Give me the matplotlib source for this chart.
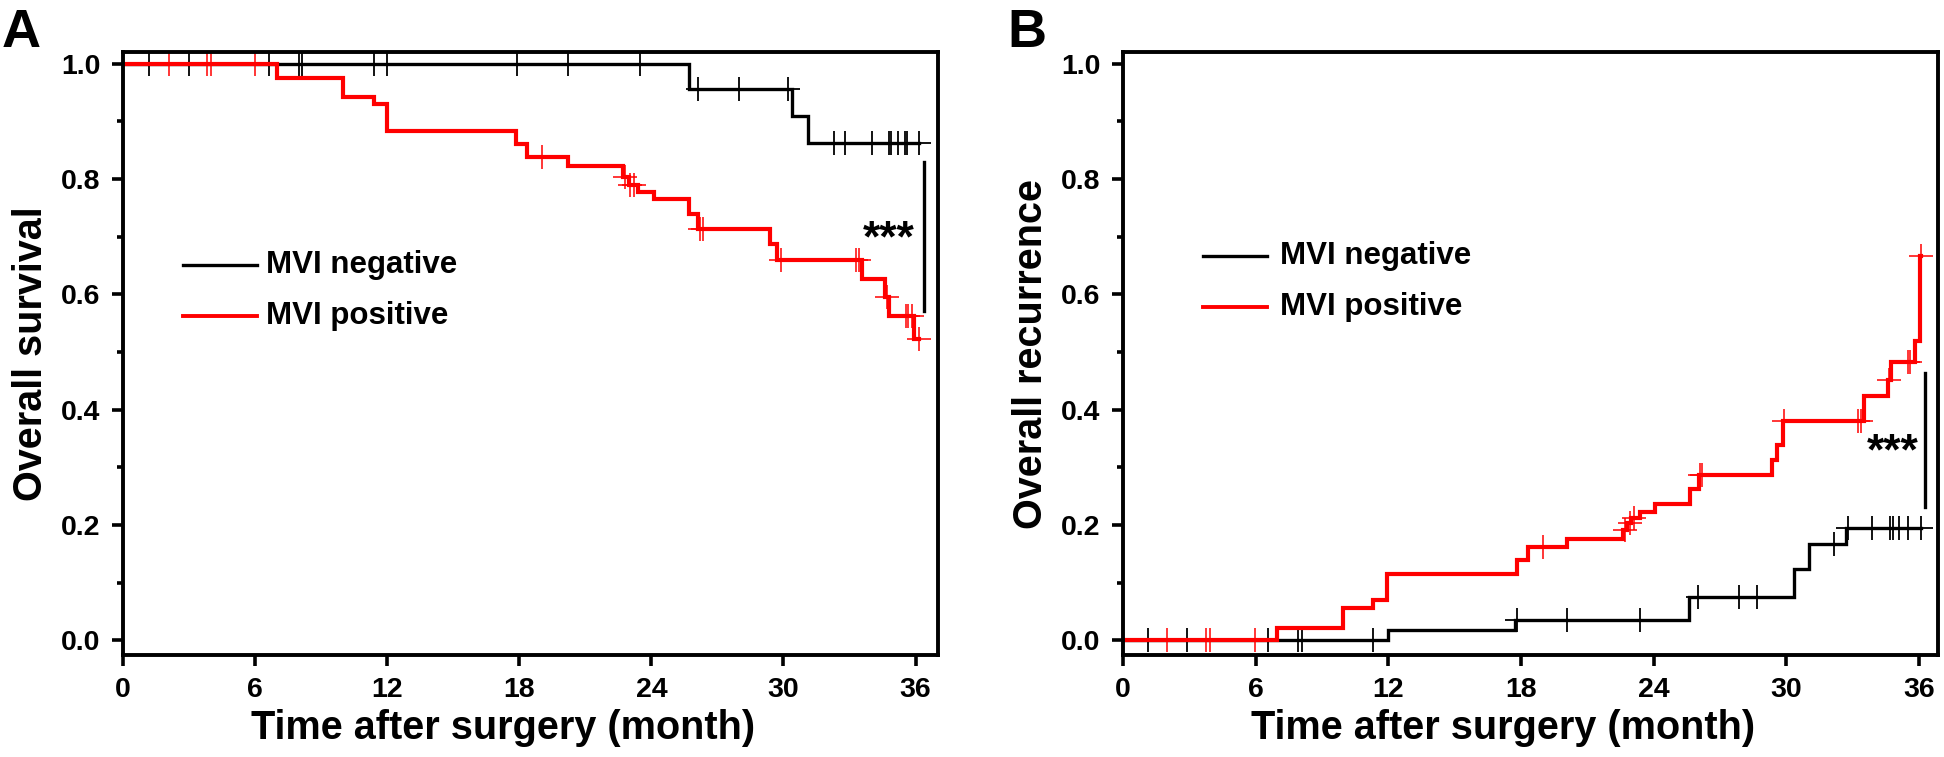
import numpy as np
import matplotlib
matplotlib.use("Agg")
import matplotlib.pyplot as plt
from matplotlib.ticker import MultipleLocator

plt.rcParams['font.family'] = ['Liberation Sans', 'DejaVu Sans']
plt.rcParams['font.weight'] = 'bold'

# ---- panel A: overall survival (step starts / levels / censor times)
a_neg_t = [0, 25.7, 30.4, 31.1]
a_neg_y = [1.0, 0.957, 0.91, 0.863]
a_neg_cens = [1.2, 3.0, 6.65, 8.0, 8.15, 11.4, 12.0, 17.9, 20.2, 23.5, 26.1, 28.0,
              30.2, 32.3, 32.8, 34.0, 34.8, 34.9, 35.2, 35.5, 35.6, 36.15]

a_pos_t = [0, 7.0, 10.0, 11.4, 12.0, 17.85, 18.35, 20.2, 22.7, 23.0, 23.4, 24.1,
           25.7, 26.1, 29.4, 29.7, 33.55, 34.6, 34.8, 35.95]
a_pos_y = [1.0, 0.976, 0.942, 0.931, 0.884, 0.861, 0.838, 0.823, 0.803, 0.79, 0.777,
           0.765, 0.74, 0.714, 0.688, 0.659, 0.627, 0.595, 0.563, 0.523]
a_pos_cens = [2.1, 3.8, 4.0, 6.0, 19.05, 22.8, 23.05, 23.2, 26.2, 26.35, 29.9,
              33.3, 33.45, 34.7, 35.55, 35.67, 35.85, 36.15]

# ---- panel B: overall recurrence
b_neg_t = [0, 12.0, 17.75, 25.6, 30.35, 31.05, 32.7]
b_neg_y = [0, 0.018, 0.036, 0.075, 0.123, 0.168, 0.195]
b_neg_cens = [1.15, 2.9, 6.55, 7.9, 8.1, 11.3, 17.8, 20.1, 23.4, 26.0, 27.85, 28.7,
              32.15, 32.8, 33.9, 34.7, 34.85, 35.1, 35.5, 36.1]

b_pos_t = [0, 6.95, 9.95, 11.3, 11.95, 17.8, 18.3, 20.1, 22.6, 22.8, 23.0, 23.4,
           24.05, 25.65, 26.05, 29.35, 29.6, 29.85, 33.5, 34.6, 34.75, 35.85, 36.05]
b_pos_y = [0, 0.022, 0.057, 0.07, 0.116, 0.139, 0.162, 0.175, 0.191, 0.204, 0.212,
           0.223, 0.237, 0.262, 0.287, 0.313, 0.339, 0.381, 0.423, 0.451, 0.482,
           0.519, 0.667]
b_pos_cens = [2.0, 3.75, 3.95, 5.95, 19.0, 22.7, 22.95, 23.1, 26.1, 26.2, 29.9,
              33.25, 33.4, 34.65, 35.5, 35.6, 36.1]

labels = ['MVI negative', 'MVI positive']
colors = ['black', '#ff0000']
x_ticks = [0, 6, 12, 18, 24, 30, 36]
y_ticks = [0.0, 0.2, 0.4, 0.6, 0.8, 1.0]

# significance bracket: x, y0, y1, then star x and baseline y
sig_a = (36.4, 0.571, 0.829, 34.8, 0.675)
sig_b = (36.3, 0.232, 0.463, 34.8, 0.306)


def km(ax, t, y, cens, color, lw, mew):
    t = np.asarray(t, float)
    y = np.asarray(y, float)
    cens = np.asarray(cens, float)
    end = max(cens.max(), t.max())
    ax.step(np.append(t, end), np.append(y, y[-1]), where='post',
            color=color, lw=lw, solid_joinstyle='miter')
    idx = np.searchsorted(t, cens, side='right') - 1
    ax.plot(cens, y[idx], ls='none', marker='+', ms=17, mew=mew, color=color)


def style(ax, ylabel, xmax):
    ax.set_xlim(0, xmax)
    ax.set_ylim(-0.025, 1.02)
    ax.set_xticks(x_ticks)
    ax.set_yticks(y_ticks)
    ax.set_yticklabels(['%.1f' % v for v in y_ticks])
    ax.yaxis.set_minor_locator(MultipleLocator(0.1))
    for s in ax.spines.values():
        s.set_linewidth(2.8)
    ax.tick_params(which='major', length=8, width=2.6, labelsize=20.5)
    ax.tick_params(axis='x', pad=8)
    ax.tick_params(axis='y', pad=8.5)
    ax.tick_params(axis='y', which='minor', length=4.3, width=2.6)
    ax.set_xlabel('Time after surgery (month)', fontsize=28.5, fontweight='bold')
    ax.set_ylabel(ylabel, fontsize=28.5, fontweight='bold')
    ax.xaxis.set_label_coords(0.466, -0.09)
    ax.yaxis.set_label_coords(-0.09, 0.5)


fig = plt.figure(figsize=(19.44, 7.57), dpi=100)
axA = fig.add_axes([0.0633, 0.135, 0.419, 0.796])
axB = fig.add_axes([0.5777, 0.135, 0.419, 0.796])

km(axA, a_neg_t, a_neg_y, a_neg_cens, colors[0], 2.4, 1.3)
km(axA, a_pos_t, a_pos_y, a_pos_cens, colors[1], 3.0, 1.1)
km(axB, b_neg_t, b_neg_y, b_neg_cens, colors[0], 2.4, 1.3)
km(axB, b_pos_t, b_pos_y, b_pos_cens, colors[1], 3.0, 1.1)

style(axA, 'Overall survival', 37.0)
style(axB, 'Overall recurrence', 36.85)

# legends drawn by hand
for ax, x0, x1, xt, ys in [(axA, 0.074, 0.164, 0.175, [0.647, 0.562]),
                           (axB, 0.098, 0.177, 0.193, [0.662, 0.577])]:
    for lab, c, yy, lw in zip(labels, colors, ys, [2.4, 2.8]):
        ax.plot([x0, x1], [yy, yy], color=c, lw=lw, transform=ax.transAxes)
        ax.text(xt, yy, lab, transform=ax.transAxes, fontsize=22.5,
                fontweight='bold', va='center', ha='left')

for ax, sig in [(axA, sig_a), (axB, sig_b)]:
    ax.plot([sig[0], sig[0]], [sig[1], sig[2]], color='black', lw=2.4)
    ax.text(sig[3], sig[4], '***', fontsize=32, fontweight='bold',
            ha='center', va='baseline')

fig.text(0.001, 0.99, 'A', fontsize=39, fontweight='bold', va='top', ha='left')
fig.text(0.518, 0.99, 'B', fontsize=39, fontweight='bold', va='top', ha='left')

fig.savefig('out.png', dpi=100)
